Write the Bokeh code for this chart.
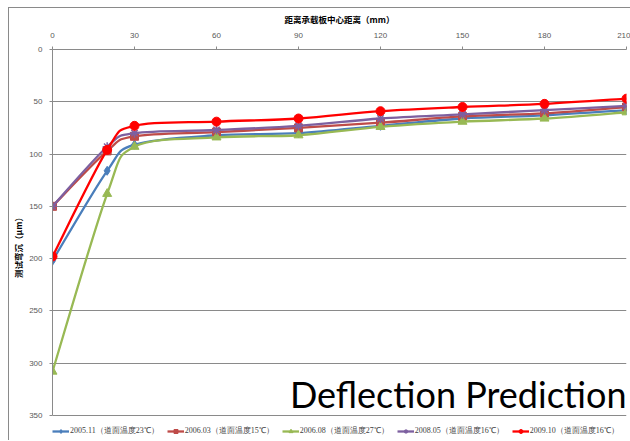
import numpy as np
from bokeh.plotting import figure
from bokeh.models import Range1d, FixedTicker, Legend, LegendItem, Label
from bokeh.embed import file_html
from bokeh.resources import INLINE

# ---- data ----
distance = [0, 20, 30, 60, 90, 120, 150, 180, 210]
s2005_11 = [202, 116, 91, 82, 80, 73, 66, 63, 58]
s2006_03 = [150, 97, 83, 79, 75, 70, 64, 61, 55]
s2006_08 = [308, 138, 93, 84, 82, 74, 69, 66, 60]
s2008_05 = [150, 93, 80, 77, 73, 66, 62, 58, 54]
s2009_10 = [198, 96, 73, 69, 66, 59, 55, 52, 47]
labels = ["2005.11（道面温度23℃）", "2006.03（道面温度15℃）", "2006.08（道面温度27℃）",
          "2008.05（道面温度16℃）", "2009.10（道面温度16℃）"]
x_ticks = [0, 30, 60, 90, 120, 150, 180, 210]
y_ticks = [0, 50, 100, 150, 200, 250, 300, 350]
x_title = "距离承载板中心距离（mm）"
y_title = "测试弯沉（μm）"
watermark = "Deflection Prediction"

series = [s2005_11, s2006_03, s2006_08, s2008_05, s2009_10]
colors = ["#4A7EBB", "#BE4B48", "#98B954", "#7D60A0", "#FF0000"]
markers = ["diamond", "square", "triangle", "asterisk", "circle"]
msizes = [9, 8, 9, 9, 9]

# plot area keeps the 0..350 axis; extra room below 350 holds the legend
p = figure(width=622, height=433, output_backend="svg", toolbar_location=None,
           x_range=Range1d(0, 210), y_range=Range1d(374.9, 0),
           x_axis_location="above",
           min_border_left=35, min_border_right=5, min_border_top=41, min_border_bottom=0)
p.styles = {"margin-left": "8px", "margin-top": "7px",
            "border-left": "1px solid #8a8a8a", "border-top": "1px solid #8a8a8a"}
p.outline_line_color = None
p.background_fill_color = "white"
p.border_fill_color = "white"

p.xgrid.grid_line_color = None
p.ygrid.grid_line_color = "#8a8a8a"
p.ygrid.grid_line_width = 1
p.ygrid.ticker = FixedTicker(ticks=y_ticks)

for ax in [p.xaxis[0], p.yaxis[0]]:
    ax.axis_line_color = "#8a8a8a"
    ax.major_tick_line_color = "#8a8a8a"
    ax.minor_tick_line_color = None
    ax.major_tick_in = 0
    ax.major_tick_out = 3
    ax.major_label_text_font = "Liberation Sans"
    ax.major_label_text_font_size = "8px"
    ax.major_label_text_color = "#595959"
    ax.axis_label_text_font = "Noto Sans CJK SC"
    ax.axis_label_text_font_style = "bold"
    ax.axis_label_text_font_size = "8.5px"
    ax.axis_label_text_color = "black"

p.xaxis[0].ticker = FixedTicker(ticks=x_ticks)
p.yaxis[0].ticker = FixedTicker(ticks=y_ticks)
p.yaxis[0].bounds = (0, 350)
p.xaxis[0].axis_label = x_title
p.yaxis[0].axis_label = y_title
p.xaxis[0].major_label_standoff = 9
p.yaxis[0].major_label_standoff = 7
p.xaxis[0].axis_label_standoff = 5
p.yaxis[0].axis_label_standoff = 2

items = []
for ys, c, m, ms, lab in zip(series, colors, markers, msizes, labels):
    x = np.array(distance, dtype=float)
    y = np.array(ys, dtype=float)
    n = len(x)
    xm = np.concatenate([[x[0]], x, [x[-1]]])
    ym = np.concatenate([[y[0]], y, [y[-1]]])
    # Excel-style smoothed segments (Catmull-Rom -> Bezier control points)
    cx0 = x[:-1] + (xm[2:n + 1] - xm[0:n - 1]) / 6.0
    cy0 = y[:-1] + (ym[2:n + 1] - ym[0:n - 1]) / 6.0
    cx1 = x[1:] - (xm[3:n + 2] - xm[1:n]) / 6.0
    cy1 = y[1:] - (ym[3:n + 2] - ym[1:n]) / 6.0
    bz = p.bezier(x0=x[:-1], y0=y[:-1], x1=x[1:], y1=y[1:],
                  cx0=cx0, cy0=cy0, cx1=cx1, cy1=cy1,
                  line_color=c, line_width=2.3)
    if m == "asterisk":
        sc = p.scatter(x, y, marker=m, size=ms, line_color=c, line_width=1.5)
    else:
        sc = p.scatter(x, y, marker=m, size=ms, fill_color=c, line_color=c)
    items.append(LegendItem(label=lab, renderers=[bz, sc]))

legend = Legend(items=items, orientation="horizontal", location=(0, 5),
                label_text_font="Liberation Serif", label_text_font_size="8px",
                label_text_color="#404040", glyph_width=17, glyph_height=10,
                label_height=10, label_standoff=1, spacing=8, padding=2, margin=0,
                border_line_color=None, background_fill_alpha=0)
p.add_layout(legend, "center")

wm = Label(x=210, y=329, text=watermark, text_align="right", text_baseline="middle",
           text_font="Lato", text_font_size="36px", text_color="black")
p.add_layout(wm)

open("out.html", "w").write(file_html(p, INLINE))
